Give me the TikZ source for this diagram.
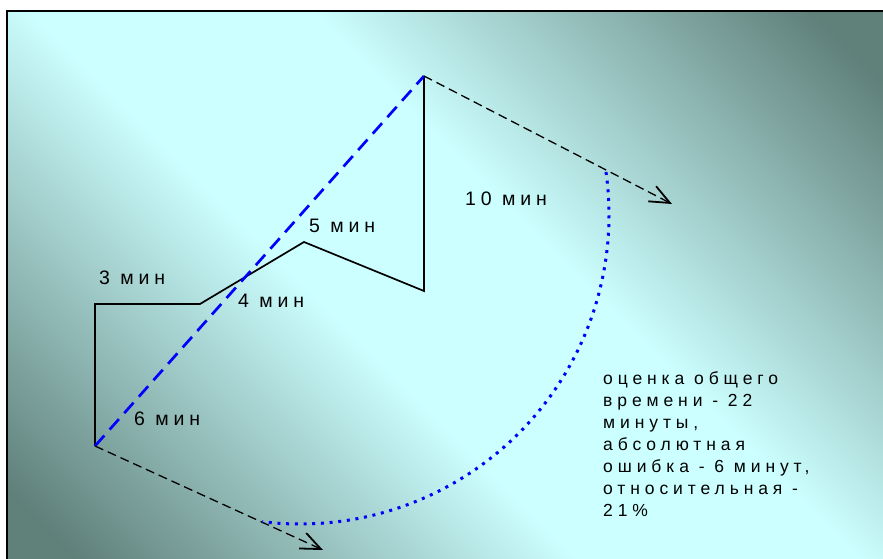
\documentclass[tikz,border=0pt]{standalone}
\usepackage{fontspec}
\setmainfont{Liberation Sans}
\newfontfamily\spacedfont[LetterSpace=25]{Liberation Sans}
\newfontfamily\notefont[LetterSpace=28]{Liberation Sans}
\usetikzlibrary{arrows.meta,calc}
\definecolor{slidelight}{RGB}{204,255,255}
\definecolor{slidedark}{RGB}{96,128,122}
\definecolor{routeblue}{RGB}{0,0,255}
\pgfdeclareverticalshading{slideband}{100bp}{color(0bp)=(slidedark); color(18bp)=(slidedark); color(43bp)=(slidelight); color(57bp)=(slidelight); color(82bp)=(slidedark); color(100bp)=(slidedark)}

\begin{document}
\begin{tikzpicture}[x=1pt, y=-1pt,
  route/.style={draw=black, line width=1.7pt, line join=miter},
  direct/.style={draw=routeblue, line width=2.7pt, dash pattern=on 14pt off 8pt},
  guess/.style={draw=black, line width=1.3pt, dash pattern=on 9pt off 5pt, -{Straight Barb[length=20pt, width=17pt, line width=1.8pt]}},
  sweep/.style={draw=routeblue, line width=3pt, dash pattern=on 3pt off 5.7pt},
  lbl/.style={font=\spacedfont\fontsize{19.5}{22}\selectfont, anchor=base west, inner sep=0pt},
  note/.style={font=\notefont\fontsize{17.5}{22}\selectfont, anchor=base west, inner sep=0pt, align=left}]
\useasboundingbox (0,0) rectangle (883,559);
\fill[white] (0,0) rectangle (883,559);
\shade[shading=slideband, shading angle=-45] (6.6,11) rectangle (883,559);
\draw[line width=2.2pt] (6.6,559) -- (6.6,11) -- (883,11);
% route points
\coordinate (p0) at (95,446);
\coordinate (p1) at (95,304);
\coordinate (p2) at (200,304);
\coordinate (p3) at (304,242);
\coordinate (p4) at (424,291);
\coordinate (p5) at (424,76);
\coordinate (e1) at (672,204);
\coordinate (e2) at (323,550);
\coordinate (a0) at (300,215);
\draw[route] (p0) -- (p1) -- (p2) -- (p3) -- (p4) -- (p5);
\draw[direct] (p0) -- (p5);
\draw[guess] (p5) -- (e1);
\draw[guess] (p0) -- (e2);
\draw[sweep] ($(a0)+(-8:309)$) arc[start angle=-8, end angle=97, radius=309];
% labels
\node[lbl] (t3) at (99,284) {3 мин};
\node[lbl] (t4) at (238,307.5) {4 мин};
\node[lbl] (t5) at (309,232.5) {5 мин};
\node[lbl] (t6) at (134,425) {6 мин};
\node[lbl] (t10) at (465,205) {10 мин};
\node[note] (est) at (603,516) {оценка общего\\времени - 22\\минуты,\\абсолютная\\ошибка - 6 минут,\\относительная -\\21\%};
\end{tikzpicture}
\end{document}
